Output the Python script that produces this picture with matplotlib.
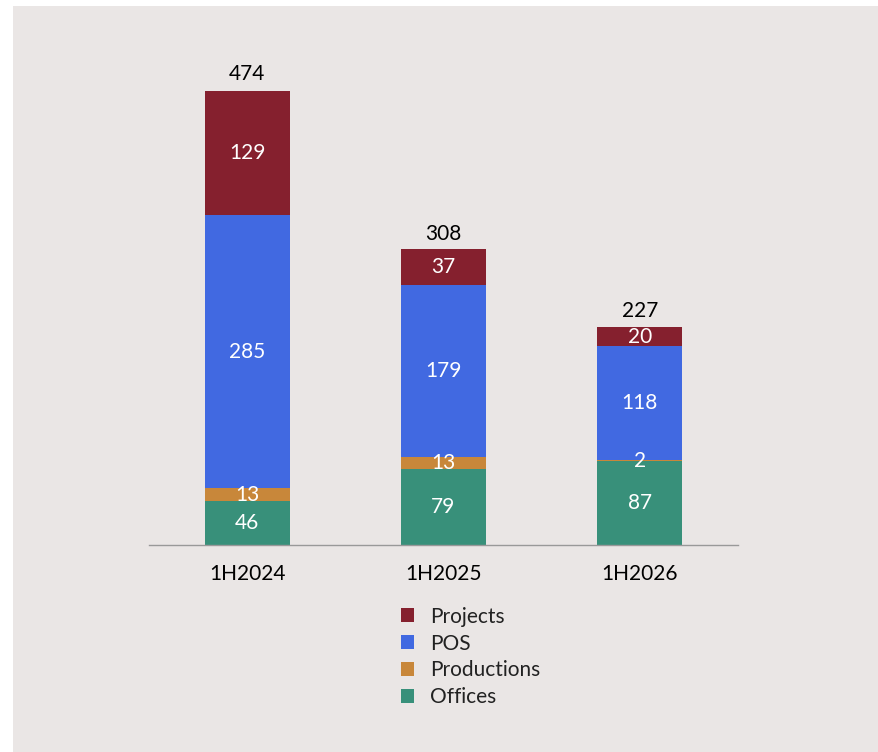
import matplotlib.pyplot as plt
import numpy as np
from matplotlib.patches import Rectangle

plt.rcParams['font.family'] = ['Lato', 'DejaVu Sans']

periods = ['1H2024', '1H2025', '1H2026']
offices = [46, 79, 87]
productions = [13, 13, 2]
pos = [285, 179, 118]
projects = [129, 37, 20]
totals = [474, 308, 227]

series = [('Offices', offices, '#38907A'),
          ('Productions', productions, '#C8873A'),
          ('POS', pos, '#4169E1'),
          ('Projects', projects, '#85202E')]

W, H = 879, 752
fig = plt.figure(figsize=(W / 100, H / 100), dpi=100, facecolor='white')
fig.patches.append(Rectangle((13 / W, 0), (878 - 13) / W, (752 - 6) / H,
                             transform=fig.transFigure, facecolor='#EAE6E5',
                             edgecolor='none', zorder=-10))

ax = fig.add_axes([149 / W, 1 - 545 / H, (738 - 149) / W, (545 - 65) / H])
ax.set_facecolor('none')

x = np.arange(len(periods))
bottom = np.zeros(len(periods))
handles = {}
for name, vals, color in series:
    vals = np.array(vals)
    bars = ax.bar(x, vals, 0.433, bottom=bottom, color=color, label=name)
    handles[name] = bars
    for xi, b, v in zip(x, bottom, vals):
        ax.text(xi, b + v / 2, str(v), ha='center', va='center',
                color='white', fontsize=15)
    bottom += vals

for xi, t in zip(x, totals):
    ax.text(xi, t + 6, str(t), ha='center', va='bottom', color='black', fontsize=15)

ax.set_xlim(-0.5, 2.5)
ax.set_ylim(0, 500)
ax.set_xticks(x)
ax.set_xticklabels(periods, fontsize=15)
ax.tick_params(axis='x', length=0, pad=14)
ax.set_yticks([])
for s in ['top', 'right', 'left']:
    ax.spines[s].set_visible(False)
ax.spines['bottom'].set_color('#999999')
ax.spines['bottom'].set_linewidth(1)

order = ['Projects', 'POS', 'Productions', 'Offices']
fig.legend([handles[n] for n in order], order, loc='upper left',
           bbox_to_anchor=(382 / W, 1 - 588 / H), frameon=False, fontsize=15,
           handlelength=0.65, handleheight=0.65, handletextpad=0.75,
           labelspacing=0.33, labelcolor='#222222')

fig.savefig('out.png', dpi=100, facecolor='white')
